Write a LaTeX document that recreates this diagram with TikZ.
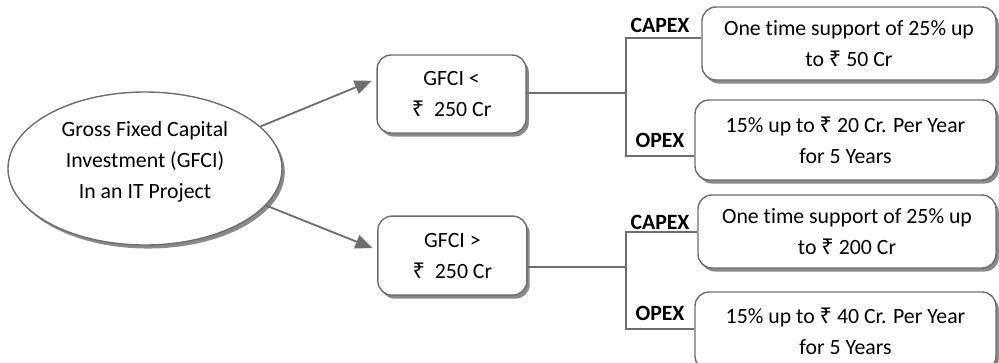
\documentclass[tikz,border=0pt]{standalone}
\usepackage{fontspec}
\setmainfont[Ligatures = CommonOff]{Carlito}
\newfontfamily\rupeefont{Noto Sans}
\usetikzlibrary{
    shapes.geometric,
    shadows,
    arrows.meta,
    calc
}
\newcommand{\rs}{{\rupeefont\char"20B9}}
\definecolor{edgegray}{HTML}{6E6E6E}
\definecolor{shadegray}{HTML}{8A8A8A}
\tikzset {
    box shadow/.style = {drop shadow={shadow xshift=2pt,shadow yshift=-2.5pt,fill=shadegray,opacity=1}},
    oval/.style = {
        ellipse, draw = edgegray, line width = 1pt, fill = white,
        box shadow, minimum width = 6.85cm, minimum height = 3.825cm
    },
    rounded box/.style = {
        draw = edgegray, line width = 1pt, fill = white, box shadow,
        rounded corners = 0.35cm, align = center, inner sep = 0pt
    },
    branch label/.style = {font = \fontsize{15.5pt}{21.3pt}\selectfont\bfseries},
    gray line/.style = {draw = edgegray, line width = 1pt},
    gray arrow/.style = {
        draw = edgegray, line width = 1.3pt,
        arrows = {-Triangle[length = 12pt, width = 10pt]}
    },
    %
    every node/.style = {font = \fontsize{15.5pt}{22pt}\selectfont}
}

\begin{document}
\begin{tikzpicture}
    \useasboundingbox (0, 0) rectangle (24.975, -9.05);
    \node (inv) [oval] at (3.625, -4.2125) {};
    \node (invtext) [align = center] at (3.625, -4.04)
        {Gross Fixed Capital\\Investment (GFCI)\\In an IT Project};
    \node (lt) [rounded box, minimum width = 3.725cm, minimum height = 1.95cm]
        at (11.29, -2.35) {GFCI <\\\rs\hspace{0.45em}250 Cr};
    \node (gt) [rounded box, minimum width = 3.725cm, minimum height = 1.975cm]
        at (11.31, -6.39) {GFCI >\\\rs\hspace{0.45em}250 Cr};
    \node (cap1) [rounded box, minimum width = 7.35cm, minimum height = 1.825cm]
        at (21.225, -1.0875) {One time support of 25\% up\\to \rs\ 50 Cr};
    \node (op1) [rounded box, minimum width = 7.525cm, minimum height = 2cm]
        at (21.1375, -3.5) {15\% up to \rs\ 20 Cr. Per Year\\for 5 Years};
    \node (cap2) [rounded box, minimum width = 7.45cm, minimum height = 1.825cm]
        at (21.175, -5.7875) {One time support of 25\% up\\to \rs\ 200 Cr};
    \node (op2) [rounded box, minimum width = 7.525cm, minimum height = 1.95cm]
        at (21.1375, -8.275) {15\% up to \rs\ 40 Cr. Per Year\\for 5 Years};
    \node (capl1) [branch label] at (16.5, -0.625) {CAPEX};
    \node (opl1) [branch label] at (16.5, -3.5) {OPEX};
    \node (capl2) [branch label] at (16.5, -5.55) {CAPEX};
    \node (opl2) [branch label] at (16.5, -7.825) {OPEX};
    \coordinate (j1) at (15.65, -2.325);
    \coordinate (c1) at (15.65, -0.95);
    \coordinate (o1) at (15.65, -3.9);
    \coordinate (j2) at (15.65, -6.675);
    \coordinate (c2) at (15.65, -5.8);
    \coordinate (o2) at (15.65, -8.225);
    \draw [gray arrow] (inv.20) -- ($ (lt.west) + (-0.12, 0.33) $);
    \draw [gray arrow] (inv.-17) -- ($ (gt.west) + (-0.12, 0.19) $);
    \draw [gray line] (lt.east |- j1) -- (j1);
    \draw [gray line] (cap1.west |- c1) -- (c1) -- (o1) -- (o1 -| op1.west);
    \draw [gray line] (gt.east |- j2) -- (j2);
    \draw [gray line] (cap2.west |- c2) -- (c2) -- (o2) -- (o2 -| op2.west);
\end{tikzpicture}
\end{document}
